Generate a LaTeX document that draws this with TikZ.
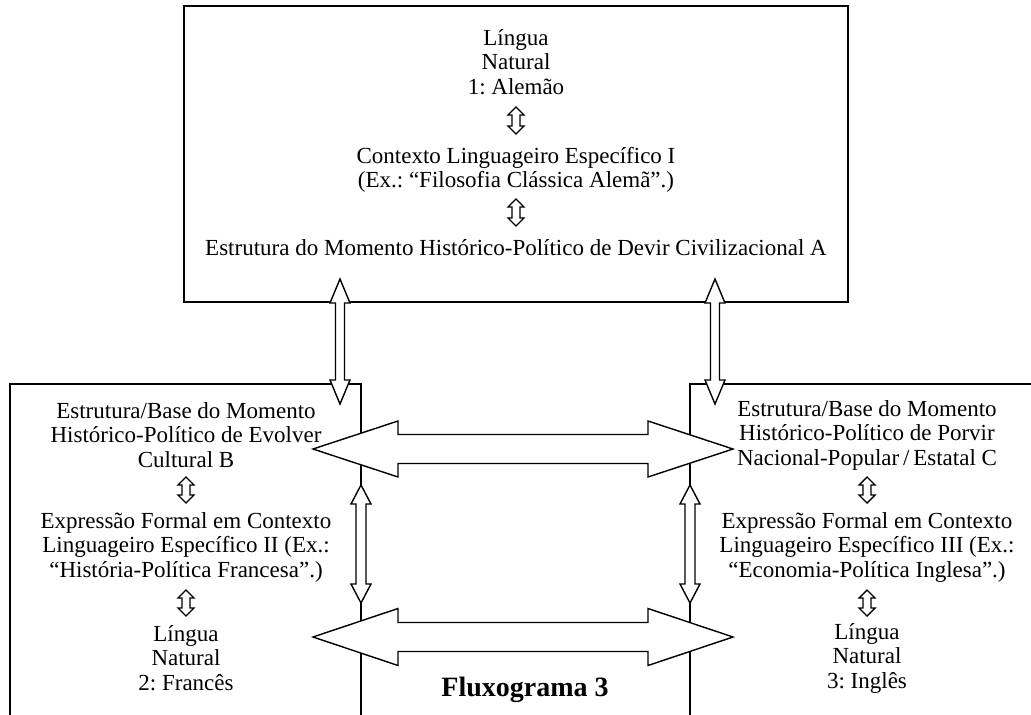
\documentclass[tikz,border=0pt]{standalone}
\usepackage{fontspec}
\setmainfont{Liberation Serif}
\frenchspacing
\tikzset{
  boxline/.style={line width=1.5pt},
  blockarrow/.style={fill=white,draw=black,line width=1.4pt,line join=miter},
  txt/.style={align=center,inner sep=0pt,font=\fontsize{23}{24.5}\selectfont}
}
% vertical double block arrow: x, top tip, bottom tip, head length, head half width, shaft half width
\newcommand{\vdblarrow}[6]{%
  \filldraw[blockarrow] (#1,#2) -- (#1+#5,#2+#4) -- (#1+#6,#2+#4) -- (#1+#6,#3-#4) -- (#1+#5,#3-#4) -- (#1,#3)
    -- (#1-#5,#3-#4) -- (#1-#6,#3-#4) -- (#1-#6,#2+#4) -- (#1-#5,#2+#4) -- cycle;}
% horizontal double block arrow: y, left tip, right tip, head length, head half height, shaft half height
\newcommand{\hdblarrow}[6]{%
  \filldraw[blockarrow] (#2,#1) -- (#2+#4,#1-#5) -- (#2+#4,#1-#6) -- (#3-#4,#1-#6) -- (#3-#4,#1-#5) -- (#3,#1)
    -- (#3-#4,#1+#5) -- (#3-#4,#1+#6) -- (#2+#4,#1+#6) -- (#2+#4,#1+#5) -- cycle;}
\begin{document}
\begin{tikzpicture}[x=1pt,y=-1pt]
\useasboundingbox (0,0) rectangle (1031,715);
% boxes
\draw[boxline] (184,6) rectangle (848,302);
\draw[boxline] (10,716) -- (10,384) -- (361,384) -- (361,716);
\draw[boxline] (1032,384) -- (690,384) -- (690,716);
% block arrows between the boxes
\vdblarrow{340}{279}{404}{24}{10}{4.5}
\vdblarrow{715}{279}{404}{24}{10}{4.5}
\vdblarrow{361}{485}{603}{19}{10}{5}
\vdblarrow{690}{485}{603}{19}{10}{5}
\hdblarrow{449}{313}{733}{85}{28}{14.5}
\hdblarrow{637}{313}{733}{85}{28.5}{14.5}
% small arrows inside the boxes
\vdblarrow{516}{107}{134}{8}{8}{4}
\vdblarrow{516}{199}{226}{8}{8}{4}
\vdblarrow{186}{477}{503}{8}{8}{4}
\vdblarrow{186}{590}{616}{8}{8}{4}
\vdblarrow{867}{477}{503}{8}{8}{4}
\vdblarrow{867}{590}{616}{8}{8}{4}
% texts
\node[txt] (lang1) at (516,62) {Língua\\Natural\\1: Alemão};
\node[txt] (ctx1) at (516,170) {Contexto Linguageiro Específico I\\(Ex.: “Filosofia Clássica Alemã”.)};
\node[txt] (estA) at (516,248) {Estrutura do Momento Histórico-Político de Devir Civilizacional A};
\node[txt] (estB) at (186,435) {Estrutura/Base do Momento\\Histórico-Político de Evolver\\Cultural B};
\node[txt] (ctx2) at (186,547) {Expressão Formal em Contexto\\Linguageiro Específico II (Ex.:\\“História-Política Francesa”.)};
\node[txt] (lang2) at (186,658) {Língua\\Natural\\2: Francês};
\node[txt] (estC) at (867,435) {Estrutura/Base do Momento\\Histórico-Político de Porvir\\Nacional-Popular\,/\,Estatal C};
\node[txt] (ctx3) at (867,547) {Expressão Formal em Contexto\\Linguageiro Específico III (Ex.:\\“Economia-Política Inglesa”.)};
\node[txt] (lang3) at (867,658) {Língua\\Natural\\3: Inglês};
\node[inner sep=0pt,font=\fontsize{28}{30}\selectfont\bfseries] (title) at (525,690) {Fluxograma 3};
\end{tikzpicture}
\end{document}
